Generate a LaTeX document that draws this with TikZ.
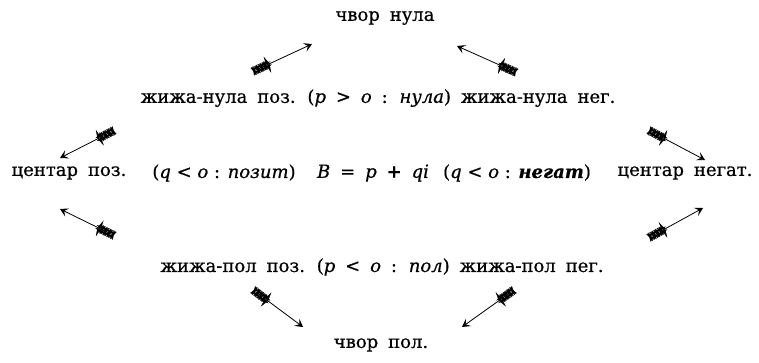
\documentclass[tikz,border=0pt]{standalone}
\usepackage{fontspec}
\setmainfont{DejaVu Serif}[FakeBold=0.6]
\usepackage{tikz}
\usetikzlibrary{arrows.meta,decorations.markings}

\newcommand\sirokrazmak{\spaceskip=0.55em plus 0.1em\relax}
\newcommand\perje{%
  \foreach \s in {1,-1}{
    \draw[line width=0.35pt] (-4,4*\s) -- (11,4*\s) -- (15,0);
    \foreach \i in {0,4,8,12}{
      \draw[line width=0.25pt] (\i,0) -- (\i-4,4*\s);
    }
  }%
}
\tikzset{
  natpis/.style={font={\fontsize{18}{21}\selectfont\sirokrazmak}, inner sep=0pt},
  uslov/.style={font={\fontsize{18}{21}\selectfont}, inner sep=0pt},
  strela/.style={line width=0.8pt, -{Stealth[length=8pt,width=9pt,inset=3.5pt]},
    postaction={decorate},
    decoration={markings, mark=at position 0 with {\perje}}}
}

\begin{document}
\begin{tikzpicture}[x=1pt,y=-1pt]
\useasboundingbox (0,0) rectangle (759,362);
% vrhovi
\node[natpis] (vrhN) at (385,18) {чвор нула};
\node[natpis] (vrhP) at (381,345) {чвор пол.};
% zize
\node[natpis] (zizaN) at (378,98)
  {жижа-нула поз. (\textit{p} > \textit{o} : \textit{нула}) жижа-нула нег.};
\node[natpis] (zizaP) at (382,267)
  {жижа-пол поз. (\textit{p} < \textit{o} : \textit{пол}) жижа-пол пег.};
% srednji red
\node[natpis] (centP) at (69,173) {центар поз.};
\node[uslov] (uslP) at (224,173) {(\textit{q} < \textit{o} : \textit{позит})};
\node[natpis] (formula) at (373,173) {\textit{B} = \textit{p} \textbf{+} \textit{qi}};
\node[uslov] (uslN) at (517,173) {(\textit{q} < \textit{o} : \textbf{\textit{негат}})};
\node[natpis] (centN) at (685,173) {центар негат.};
% strele
\coordinate (s1a) at (256,70);  \coordinate (s1b) at (312,44);
\coordinate (s2a) at (513,71);  \coordinate (s2b) at (457,46);
\coordinate (s3a) at (111,132); \coordinate (s3b) at (60,158);
\coordinate (s4a) at (111,234); \coordinate (s4b) at (60,209);
\coordinate (s5a) at (652,132); \coordinate (s5b) at (705,160);
\coordinate (s6a) at (652,236); \coordinate (s6b) at (703,208);
\coordinate (s7a) at (256,292); \coordinate (s7b) at (303,327);
\coordinate (s8a) at (511,292); \coordinate (s8b) at (462,327);
\foreach \k in {1,...,8}{
  \draw[strela] (s\k a) -- (s\k b);
}
\end{tikzpicture}
\end{document}
